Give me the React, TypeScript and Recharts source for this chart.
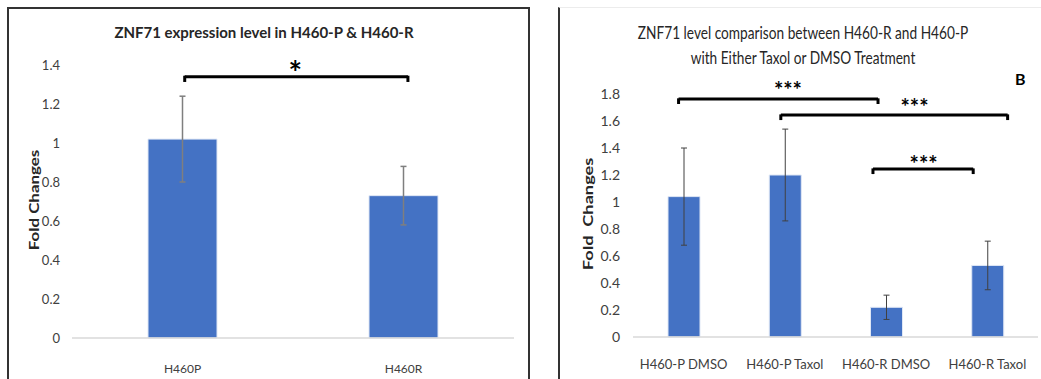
import { BarChart, Bar, XAxis, YAxis, ErrorBar, ReferenceLine, ReferenceDot } from 'recharts'

// left panel: H460-P vs H460-R
const leftCategories = ['H460P', 'H460R']
const leftValues = [1.02, 0.73]
const leftErrors = [0.22, 0.15]
const leftTicks = [0, 0.2, 0.4, 0.6, 0.8, 1, 1.2, 1.4]

// right panel: treatment comparison
const rightCategories = ['H460-P DMSO', 'H460-P Taxol', 'H460-R DMSO', 'H460-R Taxol']
const rightValues = [1.04, 1.2, 0.22, 0.53]
const rightErrors = [0.36, 0.34, 0.09, 0.18]
const rightTicks = [0, 0.2, 0.4, 0.6, 0.8, 1, 1.2, 1.4, 1.6, 1.8]

// significance brackets, x in category slots (0 = left edge of plot)
const leftBrackets = [{ from: 0.51, to: 1.52, y: 1.34, drop: 0.027, mark: '*', markX: 1.01, markY: 1.354 }]
const rightBrackets = [
	{ from: 0.45, to: 2.42, y: 1.763, drop: 0.037, mark: '***', markX: 1.53, markY: 1.829 },
	{ from: 1.46, to: 3.7, y: 1.644, drop: 0.037, mark: '***', markX: 2.78, markY: 1.704 },
	{ from: 2.37, to: 3.36, y: 1.244, drop: 0.037, mark: '***', markX: 2.87, markY: 1.282 },
]

const FONT = 'Lato, "Open Sans", sans-serif'
const BLUE = '#4472C4'

type Bracket = { from: number; to: number; y: number; drop: number; mark: string; markX: number; markY: number }

const renderBrackets = (brackets: Bracket[], markSize: number) =>
	brackets.flatMap((b, i) => [
		<ReferenceLine
			key={`h-${i}`}
			xAxisId="pos"
			ifOverflow="visible"
			segment={[{ x: b.from, y: b.y }, { x: b.to, y: b.y }]}
			stroke="#000"
			strokeWidth={3}
		/>,
		<ReferenceLine
			key={`l-${i}`}
			xAxisId="pos"
			ifOverflow="visible"
			segment={[{ x: b.from, y: b.y + 0.005 }, { x: b.from, y: b.y - b.drop }]}
			stroke="#000"
			strokeWidth={3}
		/>,
		<ReferenceLine
			key={`r-${i}`}
			xAxisId="pos"
			ifOverflow="visible"
			segment={[{ x: b.to, y: b.y + 0.005 }, { x: b.to, y: b.y - b.drop }]}
			stroke="#000"
			strokeWidth={3}
		/>,
		<ReferenceDot
			key={`m-${i}`}
			xAxisId="pos"
			ifOverflow="visible"
			x={b.markX}
			y={b.markY}
			r={0}
			stroke="none"
			label={{ value: b.mark, position: 'center', fill: '#000', fontSize: markSize, fontWeight: 700, fontFamily: FONT }}
		/>,
	])

const App = () => {
	const leftData = leftCategories.map((name, i) => ({ name, value: leftValues[i], err: leftErrors[i], slot: i + 0.5 }))
	const rightData = rightCategories.map((name, i) => ({ name, value: rightValues[i], err: rightErrors[i], slot: i + 0.5 }))

	return (
		<div style={{ position: 'absolute', left: 0, top: 0, width: 1041, height: 379, background: '#fff', overflow: 'hidden', fontFamily: FONT }}>
			{/* panel frames */}
			<div style={{ position: 'absolute', left: 7, top: 7, width: 523, height: 400, border: '2px solid #333', boxSizing: 'border-box' }} />
			<div style={{ position: 'absolute', left: 558, top: 7, width: 500, height: 400, borderLeft: '2px solid #333', borderTop: '1px solid #ececec', boxSizing: 'border-box' }} />

			{/* left chart */}
			<div style={{ position: 'absolute', left: 0, top: 23, width: 528, textAlign: 'center', fontSize: 15, fontWeight: 700, color: '#262626', lineHeight: '18px' }}>
				ZNF71 expression level in H460-P &amp; H460-R
			</div>
			<div style={{ position: 'absolute', left: 34 - 60, top: 200 - 8, width: 120, textAlign: 'center', fontSize: 13, fontWeight: 700, color: '#262626', lineHeight: '16px', transform: 'rotate(-90deg) scaleX(1.3)' }}>
				Fold Changes
			</div>
			<div style={{ position: 'absolute', left: 0, top: 0 }}>
				<BarChart width={540} height={379} data={leftData} margin={{ top: 65, right: 26, bottom: 0, left: 0 }} barSize={69}>
					<XAxis dataKey="name" height={41} tickLine={false} axisLine={{ stroke: '#d9d9d9', strokeWidth: 1.5 }} tickMargin={20} tick={{ fill: '#404040', fontSize: 12, fontFamily: FONT }} />
					<XAxis xAxisId="pos" dataKey="slot" type="number" domain={[0, 2]} allowDataOverflow hide />
					<YAxis width={72} domain={[0, 1.4]} ticks={leftTicks} tickFormatter={(v: number) => String(v)} tickLine={false} axisLine={false} tickSize={0} tickMargin={12} tick={{ fill: '#404040', fontSize: 13, fontFamily: FONT }} />
					<Bar dataKey="value" fill={BLUE} stroke="#dfe7f5" strokeWidth={1} isAnimationActive={false}>
						<ErrorBar dataKey="err" width={3} stroke="#7f7f7f" strokeWidth={1.5} />
					</Bar>
					{renderBrackets(leftBrackets, 32)}
				</BarChart>
			</div>

			{/* right chart */}
			<div style={{ position: 'absolute', left: 560, top: 20, width: 486, textAlign: 'center', fontSize: 18, color: '#262626', lineHeight: '25px', transform: 'scaleX(0.76)' }}>
				ZNF71 level comparison between H460-R and H460-P
				<br />
				with Either Taxol or DMSO Treatment
			</div>
			<div style={{ position: 'absolute', left: 1015, top: 70, fontSize: 16, fontWeight: 700, color: '#000', lineHeight: '18px' }}>B</div>
			<div style={{ position: 'absolute', left: 588 - 60, top: 214 - 8, width: 120, textAlign: 'center', fontSize: 13, fontWeight: 700, color: '#262626', lineHeight: '16px', transform: 'rotate(-90deg) scaleX(1.4)', whiteSpace: 'pre' }}>
				{'Fold  Changes'}
			</div>
			<div style={{ position: 'absolute', left: 559, top: 0 }}>
				<BarChart width={482} height={379} data={rightData} margin={{ top: 94, right: 3, bottom: 0, left: 0 }} barSize={32}>
					<XAxis dataKey="name" height={42} tickLine={false} axisLine={{ stroke: '#d9d9d9', strokeWidth: 1.5 }} tickMargin={17} tick={{ fill: '#404040', fontSize: 13, fontFamily: FONT }} />
					<XAxis xAxisId="pos" dataKey="slot" type="number" domain={[0, 4]} allowDataOverflow hide />
					<YAxis width={74} domain={[0, 1.8]} ticks={rightTicks} tickFormatter={(v: number) => String(v)} tickLine={false} axisLine={false} tickSize={0} tickMargin={13} tick={{ fill: '#404040', fontSize: 14, fontFamily: FONT }} />
					<Bar dataKey="value" fill={BLUE} stroke="#dfe7f5" strokeWidth={1} isAnimationActive={false}>
						<ErrorBar dataKey="err" width={3} stroke="#404040" strokeWidth={1} />
					</Bar>
					{renderBrackets(rightBrackets, 22)}
				</BarChart>
			</div>
		</div>
	)
}

export default App
